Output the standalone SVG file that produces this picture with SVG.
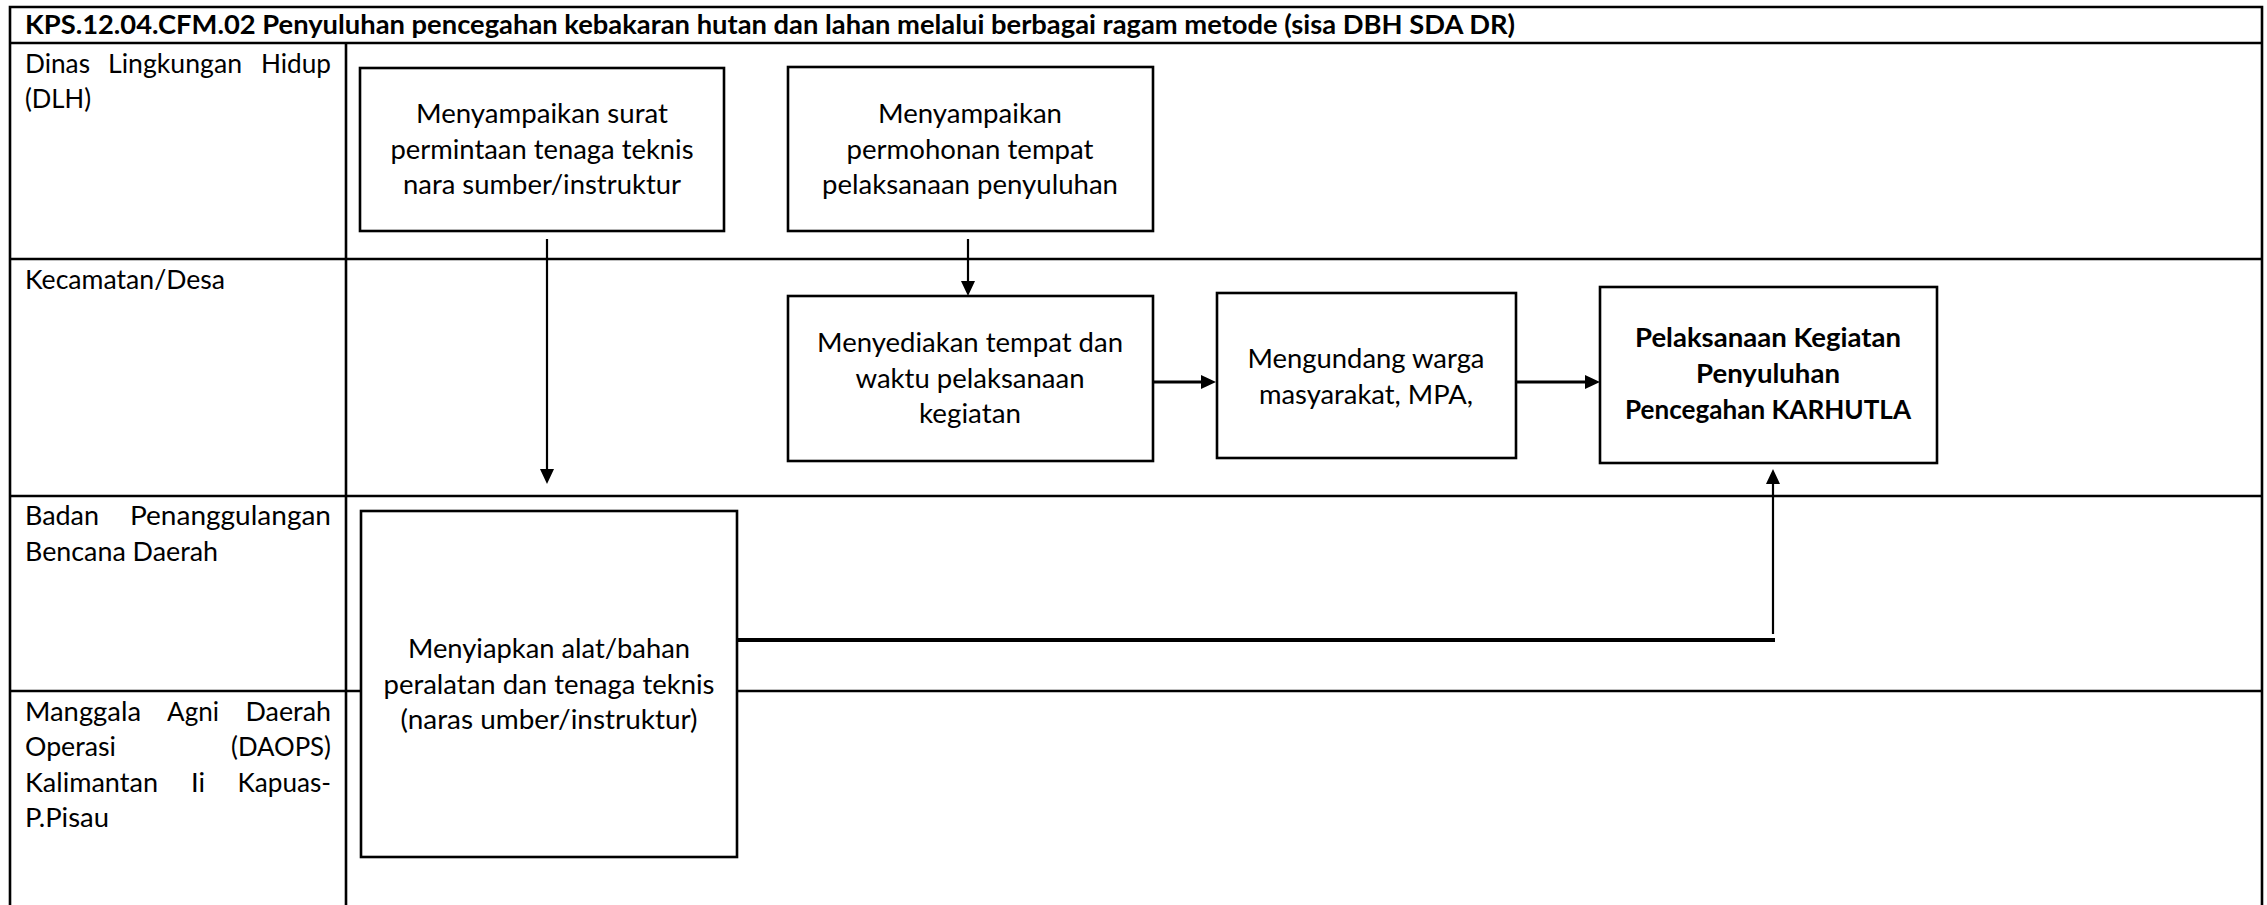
<svg xmlns="http://www.w3.org/2000/svg" width="2267" height="905" viewBox="0 0 2267 905">
<style>
.grid{stroke:#000;stroke-width:2.6;fill:none}
.box{fill:#fff;stroke:#000;stroke-width:2.6}
.t{font-family:Lato,"Liberation Sans",sans-serif;font-size:26.5px;fill:#000}
.c{text-anchor:middle}
.b{font-weight:bold}
.con{stroke:#000;fill:none;stroke-width:2.2}
.thick{stroke-width:3}
.bar{stroke-width:4}
</style>
<defs>
<marker id="ah" viewBox="0 0 15 14" refX="0" refY="7" markerWidth="15" markerHeight="14" markerUnits="userSpaceOnUse" orient="auto">
<path d="M0,0 L15,7 L0,14 z" fill="#000"/>
</marker>
</defs>
<rect width="2267" height="905" fill="#fff"/>
<g id="frame">
<path class="grid" stroke-width="3" d="M10,915 V7 H2262 V915"/>
<line class="grid" x1="10" y1="43" x2="2262" y2="43"/>
<line class="grid" x1="10" y1="259" x2="2262" y2="259"/>
<line class="grid" x1="10" y1="496" x2="2262" y2="496"/>
<line class="grid" x1="10" y1="691" x2="2262" y2="691"/>
<line class="grid" x1="346" y1="43" x2="346" y2="915"/>
<text class="t b" x="25" y="34" textLength="1490" lengthAdjust="spacingAndGlyphs">KPS.12.04.CFM.02 Penyuluhan pencegahan kebakaran hutan dan lahan melalui berbagai ragam metode (sisa DBH SDA DR)</text>
</g>
<g id="lanes">
<g id="lane-dlh">
<text class="t" x="25" y="73" textLength="65" lengthAdjust="spacingAndGlyphs">Dinas</text>
<text class="t" x="108" y="73" textLength="134" lengthAdjust="spacingAndGlyphs">Lingkungan</text>
<text class="t" x="261" y="73" textLength="70" lengthAdjust="spacingAndGlyphs">Hidup</text>
<text class="t" x="25" y="108" textLength="66" lengthAdjust="spacingAndGlyphs">(DLH)</text>
</g>
<g id="lane-kec">
<text class="t" x="25" y="289" textLength="200" lengthAdjust="spacingAndGlyphs">Kecamatan/Desa</text>
</g>
<g id="lane-bpbd">
<text class="t" x="25" y="525" textLength="74" lengthAdjust="spacingAndGlyphs">Badan</text>
<text class="t" x="130" y="525" textLength="201" lengthAdjust="spacingAndGlyphs">Penanggulangan</text>
<text class="t" x="25" y="560.5" textLength="193" lengthAdjust="spacingAndGlyphs">Bencana Daerah</text>
</g>
<g id="lane-daops">
<text class="t" x="25" y="720.5" textLength="116" lengthAdjust="spacingAndGlyphs">Manggala</text>
<text class="t" x="167" y="720.5" textLength="52" lengthAdjust="spacingAndGlyphs">Agni</text>
<text class="t" x="245.5" y="720.5" textLength="85.5" lengthAdjust="spacingAndGlyphs">Daerah</text>
<text class="t" x="25" y="756" textLength="91" lengthAdjust="spacingAndGlyphs">Operasi</text>
<text class="t" x="231" y="756" textLength="100" lengthAdjust="spacingAndGlyphs">(DAOPS)</text>
<text class="t" x="25" y="791.5" textLength="133" lengthAdjust="spacingAndGlyphs">Kalimantan</text>
<text class="t" x="191" y="791.5" textLength="14" lengthAdjust="spacingAndGlyphs">Ii</text>
<text class="t" x="237.5" y="791.5" textLength="93.5" lengthAdjust="spacingAndGlyphs">Kapuas-</text>
<text class="t" x="25" y="827" textLength="84" lengthAdjust="spacingAndGlyphs">P.Pisau</text>
</g>
</g>
<g id="connectors">
<path class="con" marker-end="url(#ah)" d="M547,239 V469"/>
<path class="con" marker-end="url(#ah)" d="M968,239 V281"/>
<path class="con thick" marker-end="url(#ah)" d="M1153,382 H1201"/>
<path class="con thick" marker-end="url(#ah)" d="M1516,382 H1585"/>
<path class="con bar" d="M737,640 H1775"/>
<path class="con" marker-end="url(#ah)" d="M1773,634 V484"/>
</g>
<g id="n1">
<rect class="box" x="360" y="68" width="364" height="163"/>
<text class="t c" x="542" y="123" textLength="252" lengthAdjust="spacingAndGlyphs">Menyampaikan surat</text>
<text class="t c" x="542" y="158.5" textLength="303" lengthAdjust="spacingAndGlyphs">permintaan tenaga teknis</text>
<text class="t c" x="542" y="194" textLength="278" lengthAdjust="spacingAndGlyphs">nara sumber/instruktur</text>
</g>
<g id="n2">
<rect class="box" x="788" y="67" width="365" height="164"/>
<text class="t c" x="970" y="123" textLength="184" lengthAdjust="spacingAndGlyphs">Menyampaikan</text>
<text class="t c" x="970" y="158.5" textLength="247" lengthAdjust="spacingAndGlyphs">permohonan tempat</text>
<text class="t c" x="970" y="194" textLength="296" lengthAdjust="spacingAndGlyphs">pelaksanaan penyuluhan</text>
</g>
<g id="n3">
<rect class="box" x="788" y="296" width="365" height="165"/>
<text class="t c" x="970" y="352" textLength="306" lengthAdjust="spacingAndGlyphs">Menyediakan tempat dan</text>
<text class="t c" x="970" y="387.5" textLength="229" lengthAdjust="spacingAndGlyphs">waktu pelaksanaan</text>
<text class="t c" x="970" y="423" textLength="102" lengthAdjust="spacingAndGlyphs">kegiatan</text>
</g>
<g id="n4">
<rect class="box" x="1217" y="293" width="299" height="165"/>
<text class="t c" x="1366" y="368" textLength="237" lengthAdjust="spacingAndGlyphs">Mengundang warga</text>
<text class="t c" x="1366" y="404" textLength="214" lengthAdjust="spacingAndGlyphs">masyarakat, MPA,</text>
</g>
<g id="n5">
<rect class="box" x="1600" y="287" width="337" height="176"/>
<text class="t c b" x="1768" y="347" textLength="266" lengthAdjust="spacingAndGlyphs">Pelaksanaan Kegiatan</text>
<text class="t c b" x="1768" y="383" textLength="144" lengthAdjust="spacingAndGlyphs">Penyuluhan</text>
<text class="t c b" x="1768" y="419" textLength="286" lengthAdjust="spacingAndGlyphs">Pencegahan KARHUTLA</text>
</g>
<g id="n6">
<rect class="box" x="361" y="511" width="376" height="346"/>
<text class="t c" x="549" y="658" textLength="282" lengthAdjust="spacingAndGlyphs">Menyiapkan alat/bahan</text>
<text class="t c" x="549" y="694" textLength="331" lengthAdjust="spacingAndGlyphs">peralatan dan tenaga teknis</text>
<text class="t c" x="549" y="729" textLength="297" lengthAdjust="spacingAndGlyphs">(naras umber/instruktur)</text>
</g>
</svg>
